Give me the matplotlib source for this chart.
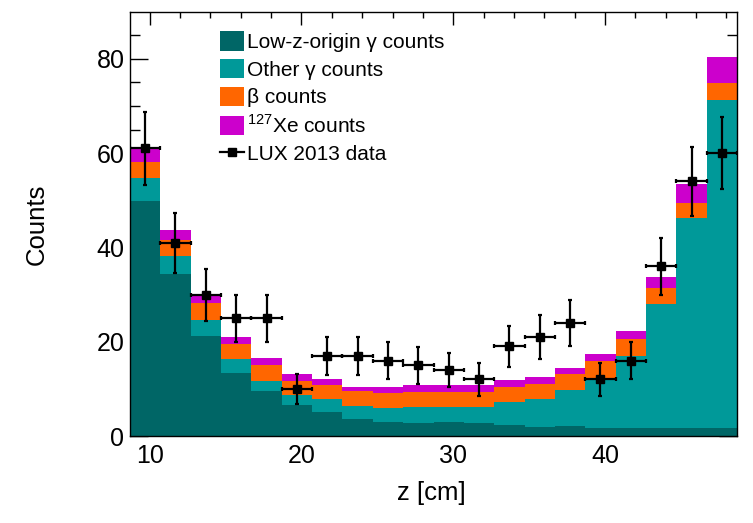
import matplotlib
matplotlib.use('Agg')
import matplotlib.pyplot as plt
from matplotlib.lines import Line2D
import numpy as np

plt.rcParams['font.family'] = ['Liberation Sans', 'DejaVu Sans']
plt.rcParams['mathtext.fontset'] = 'custom'
plt.rcParams['mathtext.rm'] = 'Liberation Sans'

# bin edges in z [cm], 20 bins of 2 cm
bin_edges = np.arange(8.7, 48.71, 2.0)

low_z_gamma = [49.9, 34.4, 21.2, 13.4, 9.5, 6.6, 5.1, 3.7, 3.0, 2.7,
               2.9, 2.8, 2.3, 2.0, 2.1, 1.6, 1.6, 1.8, 1.8, 1.8]
other_gamma = [4.9, 3.7, 3.5, 2.9, 2.1, 2.1, 2.7, 2.7, 2.9, 3.4,
               3.3, 3.3, 5.0, 5.8, 7.6, 10.2, 15.3, 26.3, 44.4, 69.4]
beta = [3.3, 3.5, 3.5, 3.2, 3.4, 2.9, 3.0, 3.2, 3.3, 3.2,
        3.1, 3.2, 3.1, 3.2, 3.4, 4.1, 3.6, 3.3, 3.3, 3.7]
xe127 = [2.8, 2.1, 1.8, 1.5, 1.5, 1.5, 1.2, 0.8, 1.1, 1.5,
         1.5, 1.5, 1.4, 1.5, 1.4, 1.6, 1.8, 2.3, 3.9, 5.4]

data_counts = [61, 41, 30, 25, 25, 10, 17, 17, 16, 15,
               14, 12, 19, 21, 24, 12, 16, 36, 54, 60]
data_err = [7.8, 6.4, 5.5, 5.0, 5.0, 3.2, 4.1, 4.1, 4.0, 3.9,
            3.7, 3.5, 4.4, 4.6, 4.9, 3.5, 4.0, 6.0, 7.3, 7.7]

components = [
    (low_z_gamma, '#006666', 'Low-z-origin γ counts'),
    (other_gamma, '#009999', 'Other γ counts'),
    (beta, '#ff6600', 'β counts'),
    (xe127, '#cc00cc', r'$^{127}$Xe counts'),
]

fig = plt.figure(figsize=(7.53, 5.23), dpi=100)
ax = fig.add_axes([0.1726, 0.1663, 0.8062, 0.8113])

base = np.zeros(len(low_z_gamma))
handles = []
for vals, col, lab in components:
    top = base + np.array(vals)
    h = ax.stairs(top, bin_edges, baseline=base, fill=True, color=col,
                  linewidth=0, label=lab)
    handles.append(h)
    base = top

centers = 0.5 * (bin_edges[:-1] + bin_edges[1:])
ax.errorbar(centers, data_counts, xerr=1.0, yerr=data_err, fmt='s',
            color='black', ms=6, elinewidth=1.6, capsize=1.5,
            capthick=1.6, zorder=5)
handles.append(Line2D([], [], color='black', marker='s', ms=6, lw=1.6,
                      label='LUX 2013 data'))

ax.set_xlim(bin_edges[0], bin_edges[-1])
ax.set_ylim(0, 90)
ax.set_xticks([10, 20, 30, 40])
ax.set_xticks(np.arange(10, 49, 2), minor=True)
ax.set_yticks([0, 20, 40, 60, 80])
ax.set_yticks(np.arange(0, 90, 5), minor=True)
ax.set_axisbelow(True)

ax.tick_params(axis='both', which='both', direction='in', top=True,
               right=True, labelsize=18, width=1.0)
ax.tick_params(axis='x', which='major', length=9, pad=6)
ax.tick_params(axis='x', which='minor', length=4)
ax.tick_params(axis='y', which='major', length=13, pad=4)
ax.tick_params(axis='y', which='minor', length=7)
for s in ax.spines.values():
    s.set_linewidth(1.0)

ax.set_xlabel('z [cm]', fontsize=18.5)
ax.set_ylabel('Counts', fontsize=18.5)
ax.xaxis.set_label_coords(0.497, -0.105)
ax.yaxis.set_label_coords(-0.133, 0.5)

ax.legend(handles=handles, loc='upper left', bbox_to_anchor=(0.148, 0.954),
          frameon=False, fontsize=15, borderpad=0, borderaxespad=0,
          handlelength=1.15, handleheight=1.05, handletextpad=0.15,
          labelspacing=0.33)

fig.savefig('out.png', dpi=100)
